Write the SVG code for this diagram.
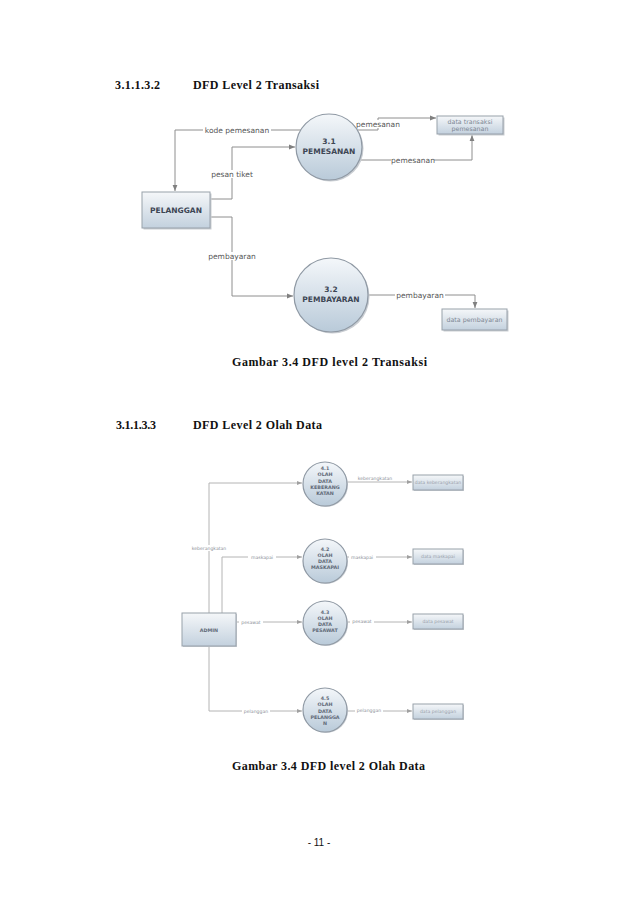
<svg xmlns="http://www.w3.org/2000/svg" width="638" height="903" viewBox="0 0 638 903">
<style>
.hd{font-family:"Liberation Serif",serif;font-weight:bold;font-size:12px;fill:#111}
.pg{font-family:"Liberation Sans",sans-serif;font-size:10px;fill:#111}
.proc{fill:url(#gc);stroke:#8f99a4;stroke-width:1.2}
.ent{fill:url(#gr);stroke:#98a1aa;stroke-width:1}
.pt{font-family:"DejaVu Sans",sans-serif;font-weight:bold;font-size:7.5px;fill:#3d4654;text-anchor:middle}
.st{font-family:"DejaVu Sans",sans-serif;font-size:6.3px;fill:#7d8794;text-anchor:middle}
.ln{fill:none;stroke:#8e8e8e;stroke-width:1;marker-end:url(#ar)}
.lb{font-family:"DejaVu Sans",sans-serif;font-size:7.5px;fill:#555;text-anchor:middle}
.ln2{fill:none;stroke:#b4b4b4;stroke-width:1;marker-end:url(#ar2)}
.lb2{font-family:"DejaVu Sans",sans-serif;font-size:4.6px;fill:#8a8f98;text-anchor:middle}
.pt2{font-family:"DejaVu Sans",sans-serif;font-weight:bold;font-size:4.8px;fill:#5f6977;text-anchor:middle}
.st2{font-family:"DejaVu Sans",sans-serif;font-size:4.6px;fill:#98a0aa;text-anchor:middle}
.bg{fill:#fff}
.sh{fill:#c9cdd2}
</style>
<defs>
<linearGradient id="gc" x1="0" y1="0" x2="0" y2="1">
<stop offset="0" stop-color="#f4f7fa"/><stop offset="1" stop-color="#b9cad9"/>
</linearGradient>
<linearGradient id="gr" x1="0" y1="0" x2="0" y2="1">
<stop offset="0" stop-color="#f5f7f9"/><stop offset="1" stop-color="#c3d1de"/>
</linearGradient>
<marker id="ar" viewBox="0 0 10 10" refX="10" refY="5" markerWidth="6" markerHeight="6" orient="auto" markerUnits="userSpaceOnUse">
<path d="M0,1 L10,5 L0,9 z" fill="#808080"/>
</marker>
<marker id="ar2" viewBox="0 0 10 10" refX="10" refY="5" markerWidth="5" markerHeight="5" orient="auto" markerUnits="userSpaceOnUse">
<path d="M0,1 L10,5 L0,9 z" fill="#a0a0a0"/>
</marker>
</defs>
<rect width="638" height="903" fill="#fff"/>

<text class="hd" x="115" y="89" textLength="45">3.1.1.3.2</text>
<text class="hd" x="193" y="89" textLength="126">DFD Level 2 Transaksi</text>
<text class="hd" x="232" y="366" textLength="195">Gambar  3.4 DFD level 2 Transaksi</text>
<text class="hd" x="116" y="429" textLength="40">3.1.1.3.3</text>
<text class="hd" x="193" y="429" textLength="129">DFD Level 2 Olah Data</text>
<text class="hd" x="232" y="770" textLength="193">Gambar  3.4 DFD level 2 Olah Data</text>
<text class="pg" x="319" y="846" text-anchor="middle">- 11 -</text>

<g id="connectors">
<path class="ln" d="M301 130 H175 V191"/>
<path class="ln" d="M210 199 H232 V147 H295"/>
<path class="ln" d="M356 130 H378 V118 H436"/>
<path class="ln" d="M361 160 H472 V135"/>
<path class="ln" d="M210 217 H232 V296 H293"/>
<path class="ln" d="M368 295 H475 V308"/>
<rect class="bg" x="203" y="126" width="68" height="8"/>
<text class="lb" x="237" y="132.5">kode pemesanan</text>
<rect class="bg" x="210" y="170" width="45" height="8"/>
<text class="lb" x="232" y="176.5">pesan tiket</text>
<rect class="bg" x="357" y="120" width="43" height="8"/>
<text class="lb" x="378" y="126.5">pemesanan</text>
<rect class="bg" x="391" y="156" width="43" height="8"/>
<text class="lb" x="413" y="162.5">pemesanan</text>
<rect class="bg" x="207" y="252" width="50" height="8"/>
<text class="lb" x="232" y="258.5">pembayaran</text>
<rect class="bg" x="395" y="291" width="50" height="8"/>
<text class="lb" x="420" y="297.5">pembayaran</text>

<path class="ln2" d="M209 613 V483 H302"/>
<path class="ln2" d="M209 646 V711 H302"/>
<path class="ln2" d="M222 613 V557 H302"/>
<path class="ln2" d="M236 622 H302"/>
<path class="ln2" d="M347 482 H412"/>
<path class="ln2" d="M347 557 H412"/>
<path class="ln2" d="M347 622 H412"/>
<path class="ln2" d="M347 711 H412"/>
<rect class="bg" x="187" y="545" width="44" height="6"/>
<text class="lb2" x="209" y="549.5">keberangkatan</text>
<rect class="bg" x="248" y="554" width="28" height="6"/>
<text class="lb2" x="262" y="558.5">maskapai</text>
<rect class="bg" x="239" y="619" width="24" height="6"/>
<text class="lb2" x="251" y="623.5">pesawat</text>
<rect class="bg" x="242" y="708" width="28" height="6"/>
<text class="lb2" x="256" y="712.5">pelanggan</text>
<rect class="bg" x="352" y="476" width="46" height="5"/>
<text class="lb2" x="375" y="480">keberangkatan</text>
<rect class="bg" x="349" y="554" width="27" height="6"/>
<text class="lb2" x="362" y="558.5">maskapai</text>
<rect class="bg" x="350" y="618" width="24" height="6"/>
<text class="lb2" x="362" y="622.5">pesawat</text>
<rect class="bg" x="355" y="707" width="28" height="6"/>
<text class="lb2" x="369" y="711.5">pelanggan</text>
</g>

<g id="p31">
<circle class="sh" cx="330.5" cy="148.5" r="33"/>
<circle class="proc" cx="329" cy="147" r="33"/>
<text class="pt" x="329" y="144">3.1</text>
<text class="pt" x="329" y="154">PEMESANAN</text>
</g>
<g id="p32">
<circle class="sh" cx="332.5" cy="296.5" r="37"/>
<circle class="proc" cx="331" cy="295" r="37"/>
<text class="pt" x="331" y="292">3.2</text>
<text class="pt" x="331" y="302">PEMBAYARAN</text>
</g>
<g id="pelanggan">
<rect class="sh" x="143.5" y="193.5" width="68" height="36"/>
<rect class="ent" x="142" y="192" width="68" height="36"/>
<text class="pt" x="176" y="213">PELANGGAN</text>
</g>
<g id="ds-transaksi">
<rect class="sh" x="438.5" y="117.5" width="66" height="18"/>
<rect class="ent" x="437" y="116" width="66" height="18"/>
<text class="st" x="470" y="124">data transaksi</text>
<text class="st" x="470" y="131">pemesanan</text>
</g>
<g id="ds-pembayaran">
<rect class="sh" x="443.5" y="310.5" width="65" height="21"/>
<rect class="ent" x="442" y="309" width="65" height="21"/>
<text class="st" x="474.5" y="322">data pembayaran</text>
</g>

<g id="admin">
<rect class="sh" x="183" y="614" width="54" height="33"/>
<rect class="ent" x="182" y="613" width="54" height="33"/>
<text class="pt2" x="209" y="631.5">ADMIN</text>
</g>
<g id="p41">
<circle class="sh" cx="326" cy="485" r="22"/>
<circle class="proc" cx="325" cy="484" r="22"/>
<text class="pt2" x="325" y="470">4.1</text>
<text class="pt2" x="325" y="476.3">OLAH</text>
<text class="pt2" x="325" y="482.6">DATA</text>
<text class="pt2" x="325" y="488.9">KEBERANG</text>
<text class="pt2" x="325" y="495.2">KATAN</text>
</g>
<g id="p42">
<circle class="sh" cx="326" cy="562" r="22"/>
<circle class="proc" cx="325" cy="561" r="22"/>
<text class="pt2" x="325" y="550.5">4.2</text>
<text class="pt2" x="325" y="556.8">OLAH</text>
<text class="pt2" x="325" y="563.1">DATA</text>
<text class="pt2" x="325" y="569.4">MASKAPAI</text>
</g>
<g id="p43">
<circle class="sh" cx="326" cy="624" r="22"/>
<circle class="proc" cx="325" cy="623" r="22"/>
<text class="pt2" x="325" y="613.5">4.3</text>
<text class="pt2" x="325" y="619.8">OLAH</text>
<text class="pt2" x="325" y="626.1">DATA</text>
<text class="pt2" x="325" y="632.4">PESAWAT</text>
</g>
<g id="p45">
<circle class="sh" cx="326" cy="711" r="22"/>
<circle class="proc" cx="325" cy="710" r="22"/>
<text class="pt2" x="325" y="700">4.5</text>
<text class="pt2" x="325" y="706.3">OLAH</text>
<text class="pt2" x="325" y="712.6">DATA</text>
<text class="pt2" x="325" y="718.9">PELANGGA</text>
<text class="pt2" x="325" y="725.2">N</text>
</g>
<g id="ds-keberangkatan">
<rect class="sh" x="414" y="476" width="50" height="15"/>
<rect class="ent" x="413" y="475" width="50" height="15"/>
<text class="st2" x="438" y="484">data keberangkatan</text>
</g>
<g id="ds-maskapai">
<rect class="sh" x="414" y="550" width="50" height="15"/>
<rect class="ent" x="413" y="549" width="50" height="15"/>
<text class="st2" x="438" y="558">data maskapai</text>
</g>
<g id="ds-pesawat">
<rect class="sh" x="414" y="615" width="50" height="15"/>
<rect class="ent" x="413" y="614" width="50" height="15"/>
<text class="st2" x="438" y="623">data pesawat</text>
</g>
<g id="ds-pelanggan">
<rect class="sh" x="414" y="705" width="50" height="15"/>
<rect class="ent" x="413" y="704" width="50" height="15"/>
<text class="st2" x="438" y="713">data pelanggan</text>
</g>
</svg>
